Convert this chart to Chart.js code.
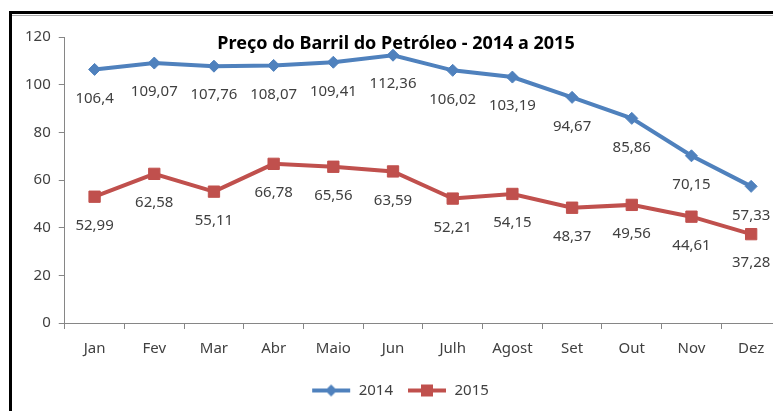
<!DOCTYPE html>
<html>
<head>
<meta charset="utf-8">
<script src="https://cdn.jsdelivr.net/npm/chart.js@4.4.1/dist/chart.umd.min.js"></script>
<style>
  html, body { margin: 0; padding: 0; background: #fff; overflow: hidden; }
  #wrap { position: relative; width: 773px; height: 411px; overflow: hidden; }
  #box { position: absolute; left: 0; top: 0; width: 790px; height: 413px; }
  .frameTop { position: absolute; left: 9px; top: 11px; width: 780px; height: 3px; background: #000; }
  .frameTop2 { position: absolute; left: 12px; top: 15px; width: 780px; height: 1px; background: #aaa; }
  .frameLeft { position: absolute; left: 9px; top: 11px; width: 3px; height: 400px; background: #000; }
</style>
</head>
<body>
<div id="wrap">
  <div id="box"><canvas id="chart"></canvas></div>
  <div class="frameTop"></div>
  <div class="frameTop2"></div>
  <div class="frameLeft"></div>
</div>
<script>
const months = ['Jan', 'Fev', 'Mar', 'Abr', 'Maio', 'Jun', 'Julh', 'Agost', 'Set', 'Out', 'Nov', 'Dez'];
const price2014 = [106.4, 109.07, 107.76, 108.07, 109.41, 112.36, 106.02, 103.19, 94.67, 85.86, 70.15, 57.33];
const price2015 = [52.99, 62.58, 55.11, 66.78, 65.56, 63.59, 52.21, 54.15, 48.37, 49.56, 44.61, 37.28];
const chartTitle = 'Preço do Barril do Petróleo - 2014 a 2015';

const blue = '#4F81BD';
const red = '#C0504D';
const textColor = '#404040';
const fontFam = "'Noto Sans', 'Open Sans', sans-serif";

// small canvas with line + marker for the legend
function legendIcon(color, style) {
  const c = document.createElement('canvas');
  c.width = 40; c.height = 14;
  const g = c.getContext('2d');
  g.strokeStyle = color; g.fillStyle = color; g.lineWidth = 4;
  g.beginPath(); g.moveTo(1, 7); g.lineTo(39, 7); g.stroke();
  if (style === 'rectRot') {
    g.beginPath(); g.moveTo(20, 1); g.lineTo(26, 7); g.lineTo(20, 13); g.lineTo(14, 7); g.closePath(); g.fill();
  } else {
    g.fillRect(14, 1, 12, 12);
  }
  return c;
}

// value labels under each point, comma decimal
const valueLabels = {
  id: 'valueLabels',
  afterDatasetsDraw(chart) {
    const ctx = chart.ctx;
    ctx.save();
    ctx.font = '15px ' + fontFam;
    ctx.fillStyle = textColor;
    ctx.textAlign = 'center';
    ctx.textBaseline = 'middle';
    chart.data.datasets.forEach((ds, i) => {
      chart.getDatasetMeta(i).data.forEach((pt, j) => {
        const txt = String(ds.data[j]).replace('.', ',');
        ctx.fillText(txt, pt.x, pt.y + 29);
      });
    });
    ctx.restore();
  }
};

// title sits inside the plot like the Excel one
const innerTitle = {
  id: 'innerTitle',
  afterDraw(chart) {
    const ctx = chart.ctx;
    ctx.save();
    ctx.font = 'bold 18px ' + fontFam;
    ctx.fillStyle = '#000';
    ctx.textAlign = 'center';
    ctx.textBaseline = 'middle';
    ctx.fillText(chartTitle, 396, 44);
    ctx.restore();
  }
};

new Chart(document.getElementById('chart'), {
  type: 'line',
  data: {
    labels: months,
    datasets: [
      {
        label: '2014',
        data: price2014,
        borderColor: blue,
        backgroundColor: blue,
        borderWidth: 4,
        pointStyle: 'rectRot',
        pointRadius: 6,
        pointHoverRadius: 6,
        pointBorderWidth: 1,
        tension: 0
      },
      {
        label: '2015',
        data: price2015,
        borderColor: red,
        backgroundColor: red,
        borderWidth: 4,
        pointStyle: 'rect',
        pointRadius: 8,
        pointHoverRadius: 8,
        pointBorderWidth: 1,
        tension: 0
      }
    ]
  },
  options: {
    responsive: true,
    maintainAspectRatio: false,
    animation: false,
    layout: { padding: { top: 37, left: 17, right: 7, bottom: 5 } },
    plugins: {
      tooltip: { enabled: false },
      title: { display: false },
      legend: {
        position: 'bottom',
        labels: {
          color: textColor,
          font: { size: 15, family: fontFam },
          usePointStyle: true,
          pointStyleWidth: 40,
          padding: 14,
          generateLabels(chart) {
            return chart.data.datasets.map((ds, i) => ({
              text: ds.label,
              fontColor: textColor,
              pointStyle: legendIcon(ds.borderColor, ds.pointStyle),
              lineWidth: 0,
              strokeStyle: 'transparent',
              fillStyle: ds.borderColor,
              datasetIndex: i,
              hidden: false
            }));
          }
        }
      }
    },
    scales: {
      x: {
        offset: true,
        border: { display: true, color: '#868686', width: 1 },
        grid: { display: true, offset: true, drawOnChartArea: false, drawTicks: true, tickLength: 6, color: '#868686' },
        ticks: { color: textColor, font: { size: 15, family: fontFam }, padding: 11, maxRotation: 0 }
      },
      y: {
        min: 0,
        max: 120,
        border: { display: true, color: '#868686', width: 1 },
        grid: { display: true, drawOnChartArea: false, drawTicks: true, tickLength: 6, color: '#868686' },
        ticks: { stepSize: 20, color: textColor, font: { size: 15, family: fontFam }, padding: 8 }
      }
    }
  },
  plugins: [valueLabels, innerTitle]
});
</script>
</body>
</html>
